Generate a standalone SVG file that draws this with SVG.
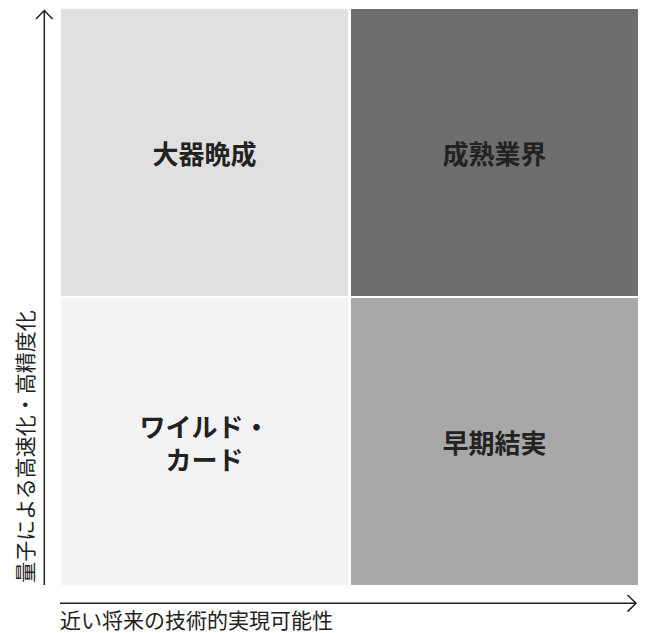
<svg xmlns="http://www.w3.org/2000/svg" width="645" height="633" viewBox="0 0 645 633">
<style>
.q{font-family:"Noto Sans CJK JP","Noto Sans",sans-serif;font-size:26px;font-weight:bold;fill:#222;text-anchor:middle;dominant-baseline:central}
.ax{stroke:#222;stroke-width:1.5;fill:none}
.lbl{font-family:"Noto Sans CJK JP","Noto Sans",sans-serif;font-size:21px;fill:#222}
</style>
<rect width="645" height="633" fill="#fff"/>
<g id="q-tl"><rect x="61" y="9" width="287" height="287" fill="#e0e0e0"/><text class="q" x="204.5" y="152.5">大器晩成</text></g>
<g id="q-tr"><rect x="351" y="9" width="287" height="287" fill="#6e6e6e"/><text class="q" x="494.5" y="152.5">成熟業界</text></g>
<g id="q-bl"><rect x="61" y="298" width="287" height="287" fill="#f3f3f3"/><text class="q"><tspan x="204.5" y="425">ワイルド・</tspan><tspan x="204.5" y="458">カード</tspan></text></g>
<g id="q-br"><rect x="351" y="298" width="287" height="287" fill="#a8a8a8"/><text class="q" x="494.5" y="441.5">早期結実</text></g>
<g id="axes">
<path class="ax" d="M44.3 585V10.5M36 19L44.3 10.5L52.6 19"/>
<path class="ax" d="M60 603.3H636M627.5 595L636 603.3L627.5 611.6"/>
</g>
<text class="lbl" x="60" y="628">近い将来の技術的実現可能性</text>
<text class="lbl" transform="translate(24 446.5) rotate(-90)" text-anchor="middle" dominant-baseline="central">量子による高速化・高精度化</text>
</svg>
